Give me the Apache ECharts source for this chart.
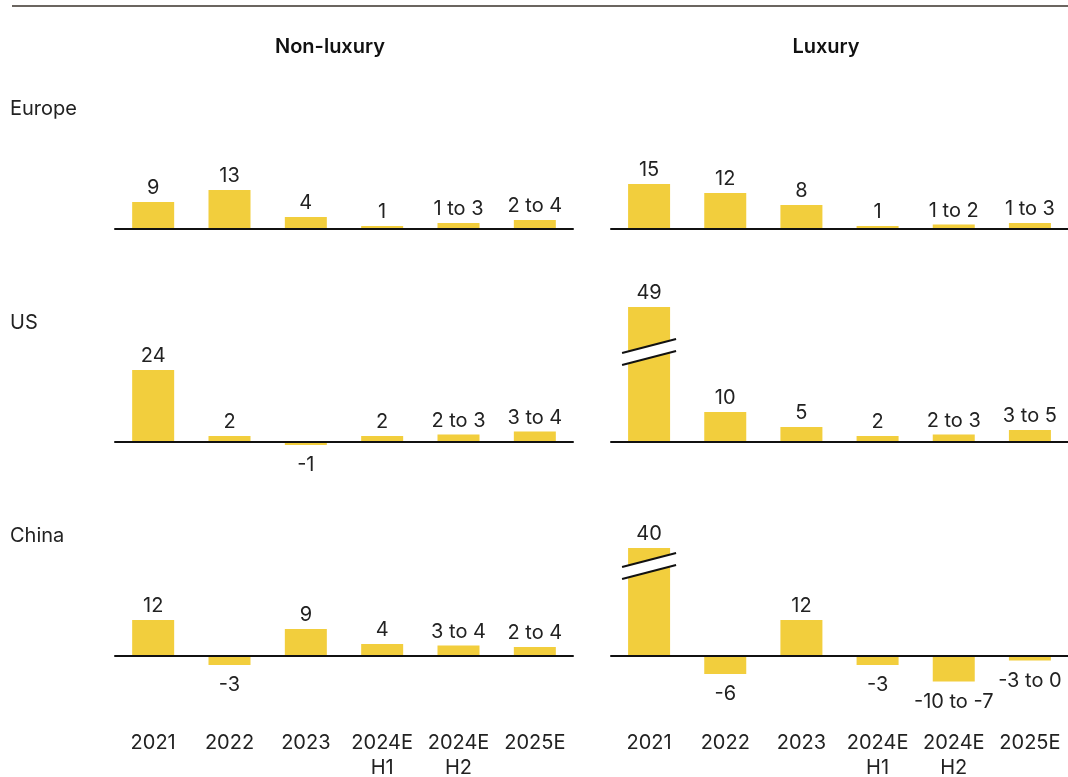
<!DOCTYPE html>
<html>
<head>
<meta charset="utf-8">
<script src="https://cdn.jsdelivr.net/npm/echarts@6/dist/echarts.min.js"></script>
<style>
html,body{margin:0;padding:0;background:#fff;}
#c{width:1068px;height:777px;}
</style>
</head>
<body>
<div id="c"></div>
<script>
const categories = ['2021', '2022', '2023', '2024E\nH1', '2024E\nH2', '2025E'];
const columnTitles = ['Non-luxury', 'Luxury'];
const rowTitles = ['Europe', 'US', 'China'];

// values (midpoints for ranges)
const europeNonLux = [9, 13, 4, 1, 2, 3];
const europeLux = [15, 12, 8, 1, 1.5, 2];
const usNonLux = [24, 2, -1, 2, 2.5, 3.5];
const usLux = [49, 10, 5, 2, 2.5, 4];
const chinaNonLux = [12, -3, 9, 4, 3.5, 3];
const chinaLux = [40, -6, 12, -3, -8.5, -1.5];

// printed labels
const europeNonLuxLabels = ['9', '13', '4', '1', '1 to 3', '2 to 4'];
const europeLuxLabels = ['15', '12', '8', '1', '1 to 2', '1 to 3'];
const usNonLuxLabels = ['24', '2', '-1', '2', '2 to 3', '3 to 4'];
const usLuxLabels = ['49', '10', '5', '2', '2 to 3', '3 to 5'];
const chinaNonLuxLabels = ['12', '-3', '9', '4', '3 to 4', '2 to 4'];
const chinaLuxLabels = ['40', '-6', '12', '-3', '-10 to -7', '-3 to 0'];

// broken bars: height actually drawn, and where the break mark sits
const usLuxShown = [45, null, null, null, null, null];
const chinaLuxShown = [36, null, null, null, null, null];
const breakAt = 30;

const FONT = 'Inter, "Noto Sans", sans-serif';
const BAR = '#F2CE3D';
const TXT = '#222222';
const FS = 20;

const panels = [
  {vals: europeNonLux, labels: europeNonLuxLabels, shown: null, row: 0, col: 0},
  {vals: europeLux, labels: europeLuxLabels, shown: null, row: 0, col: 1},
  {vals: usNonLux, labels: usNonLuxLabels, shown: null, row: 1, col: 0},
  {vals: usLux, labels: usLuxLabels, shown: usLuxShown, row: 1, col: 1},
  {vals: chinaNonLux, labels: chinaNonLuxLabels, shown: null, row: 2, col: 0},
  {vals: chinaLux, labels: chinaLuxLabels, shown: chinaLuxShown, row: 2, col: 1}
];

const rowTops = [79, 292, 506];
const colLefts = [115, 611];
const colWidths = [458, 457];
const YMIN = -15, YMAX = 50, GRIDH = 195;

const grids = [], xAxes = [], yAxes = [], series = [];
panels.forEach((p, i) => {
  grids.push({left: colLefts[p.col], width: colWidths[p.col], top: rowTops[p.row], height: GRIDH,
    containLabel: false, outerBoundsMode: 'none'});
  xAxes.push({
    type: 'category', gridIndex: i, data: categories,
    axisLine: {show: true, onZero: true, lineStyle: {color: '#111', width: 2}},
    axisTick: {show: false},
    axisLabel: {
      show: p.row === 2, margin: 29, fontFamily: FONT, fontSize: FS, color: TXT,
      lineHeight: 25, interval: 0
    },
    z: 10
  });
  yAxes.push({type: 'value', gridIndex: i, min: YMIN, max: YMAX, show: false, splitLine: {show: false}});
  const labs = p.labels;
  series.push({
    type: 'bar', xAxisIndex: i, yAxisIndex: i, barWidth: 42,
    itemStyle: {color: BAR},
    data: p.vals.map((v, k) => {
      const shown = p.shown && p.shown[k] != null ? p.shown[k] : v;
      return {
        value: shown,
        label: {
          show: true, position: v < 0 ? 'bottom' : 'top', distance: v < 0 ? 10 : 4,
          fontFamily: FONT, fontSize: FS, color: TXT,
          formatter: () => labs[k]
        }
      };
    }),
    animation: false
  });
});

const graphics = [
  {type: 'line', shape: {x1: 12, y1: 6, x2: 1068, y2: 6}, style: {stroke: '#6b6560', lineWidth: 2}},
  {type: 'text', x: 330, y: 47, style: {text: columnTitles[0], font: '600 20px ' + FONT, fill: '#111', align: 'center', verticalAlign: 'middle'}},
  {type: 'text', x: 826, y: 47, style: {text: columnTitles[1], font: '600 20px ' + FONT, fill: '#111', align: 'center', verticalAlign: 'middle'}},
  {type: 'text', x: 10, y: 109, style: {text: rowTitles[0], font: FS + 'px ' + FONT, fill: TXT, verticalAlign: 'middle'}},
  {type: 'text', x: 10, y: 323, style: {text: rowTitles[1], font: FS + 'px ' + FONT, fill: TXT, verticalAlign: 'middle'}},
  {type: 'text', x: 10, y: 536, style: {text: rowTitles[2], font: FS + 'px ' + FONT, fill: TXT, verticalAlign: 'middle'}}
];

const chart = echarts.init(document.getElementById('c'), null, {renderer: 'canvas'});
chart.setOption({
  animation: false,
  backgroundColor: '#fff',
  grid: grids, xAxis: xAxes, yAxis: yAxes, series: series,
  graphic: graphics
});

// break marks on truncated bars
const breaks = [];
panels.forEach((p, i) => {
  if (!p.shown) return;
  p.shown.forEach((s, k) => {
    if (s == null) return;
    const c = chart.convertToPixel({gridIndex: i}, [categories[k], breakAt]);
    const cx = c[0], cy = c[1];
    breaks.push({
      type: 'polygon', z: 100,
      shape: {points: [[cx - 27, cy + 1], [cx + 27, cy - 13], [cx + 27, cy - 1], [cx - 27, cy + 13]]},
      style: {fill: '#fff'}
    });
    breaks.push({type: 'line', z: 101, shape: {x1: cx - 27, y1: cy + 1, x2: cx + 27, y2: cy - 13}, style: {stroke: '#111', lineWidth: 2}});
    breaks.push({type: 'line', z: 101, shape: {x1: cx - 27, y1: cy + 13, x2: cx + 27, y2: cy - 1}, style: {stroke: '#111', lineWidth: 2}});
  });
});
chart.setOption({graphic: graphics.concat(breaks)});
</script>
</body>
</html>
